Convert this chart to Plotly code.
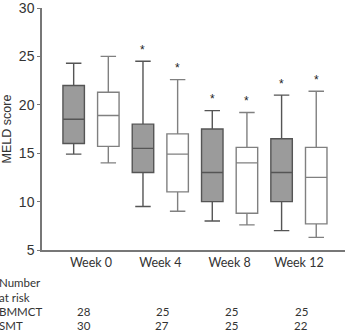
import plotly.graph_objects as go

weeks = ["Week 0", "Week 4", "Week 8", "Week 12"]

# BMMCT (shaded) box statistics
bm_low = [14.9, 9.5, 8.0, 7.0]
bm_q1 = [16.0, 13.0, 10.0, 10.0]
bm_med = [18.5, 15.5, 13.0, 13.0]
bm_q3 = [22.0, 18.0, 17.5, 16.5]
bm_high = [24.3, 24.5, 19.4, 21.0]

# SMT (white) box statistics
smt_low = [14.0, 9.0, 7.6, 6.3]
smt_q1 = [15.7, 11.0, 8.8, 7.7]
smt_med = [18.9, 14.9, 14.0, 12.5]
smt_q3 = [21.3, 17.0, 15.6, 15.6]
smt_high = [25.0, 22.6, 19.2, 21.4]

# significance markers (True -> asterisk)
bm_sig = [False, True, True, True]
smt_sig = [False, True, True, True]

row_labels = ["Number", "at risk", "BMMCT", "SMT"]
n_bmmct = [28, 25, 25, 25]
n_smt = [30, 27, 25, 22]

off = 0.25
xb = [i - off for i in range(len(weeks))]
xs = [i + off for i in range(len(weeks))]

fig = go.Figure()
fig.add_trace(go.Box(
    x=xb, q1=bm_q1, median=bm_med, q3=bm_q3, lowerfence=bm_low, upperfence=bm_high,
    width=0.31, whiskerwidth=0.72, fillcolor="#9b9b9b",
    line=dict(color="#555555", width=1.4), boxpoints=False, showlegend=False,
    hoverinfo="skip"))
fig.add_trace(go.Box(
    x=xs, q1=smt_q1, median=smt_med, q3=smt_q3, lowerfence=smt_low, upperfence=smt_high,
    width=0.31, whiskerwidth=0.72, fillcolor="#ffffff",
    line=dict(color="#808080", width=1.4), boxpoints=False, showlegend=False,
    hoverinfo="skip"))

ann = []
afont = dict(size=12, color="#222222", family="Liberation Sans")
for i in range(len(weeks)):
    if bm_sig[i]:
        ann.append(dict(x=xb[i], y=bm_high[i] + 0.25, text="*", showarrow=False,
                        yanchor="bottom", font=afont))
    if smt_sig[i]:
        ann.append(dict(x=xs[i], y=smt_high[i] + 0.25, text="*", showarrow=False,
                        yanchor="bottom", font=afont))

# table below the chart
def px_x(px):
    return (px - 42) / 303.0

def px_y(py):
    return (250 - py) / 242.0

tfont = dict(size=11.5, color="#333333", family="Lato")
row_y = [283, 297, 311, 325]
for lab, ry in zip(row_labels, row_y):
    ann.append(dict(xref="paper", yref="paper", x=px_x(-3), y=px_y(ry), text=lab,
                    showarrow=False, xanchor="left", yanchor="middle", font=tfont))
col_px = [84, 162, 231, 301]
for i in range(len(weeks)):
    ann.append(dict(xref="paper", yref="paper", x=px_x(col_px[i]), y=px_y(311),
                    text=str(n_bmmct[i]), showarrow=False, xanchor="center",
                    yanchor="middle", font=tfont))
    ann.append(dict(xref="paper", yref="paper", x=px_x(col_px[i]), y=px_y(325),
                    text=str(n_smt[i]), showarrow=False, xanchor="center",
                    yanchor="middle", font=tfont))

fig.update_layout(
    width=345, height=330,
    margin=dict(l=42, r=0, t=8, b=80),
    paper_bgcolor="white", plot_bgcolor="white",
    annotations=ann,
    xaxis=dict(range=[-0.707, 3.665], tickvals=list(range(len(weeks))), ticktext=weeks,
               showgrid=False, zeroline=False, showline=True, linecolor="#777777",
               linewidth=1.5, ticks="", tickfont=dict(size=12.5, color="#333333", family="Lato")),
    yaxis=dict(range=[5, 30], tickvals=[5, 10, 15, 20, 25, 30], showgrid=False,
               zeroline=False, showline=True, linecolor="#777777", linewidth=1.5,
               ticks="outside", ticklen=3, tickcolor="#777777", ticklabeloverflow="allow",
               tickfont=dict(size=14, color="#333333", family="Liberation Sans"),
               title=dict(text="MELD score", standoff=4,
                          font=dict(size=12.5, color="#333333", family="Liberation Sans"))),
)

fig.write_html("out.html")
